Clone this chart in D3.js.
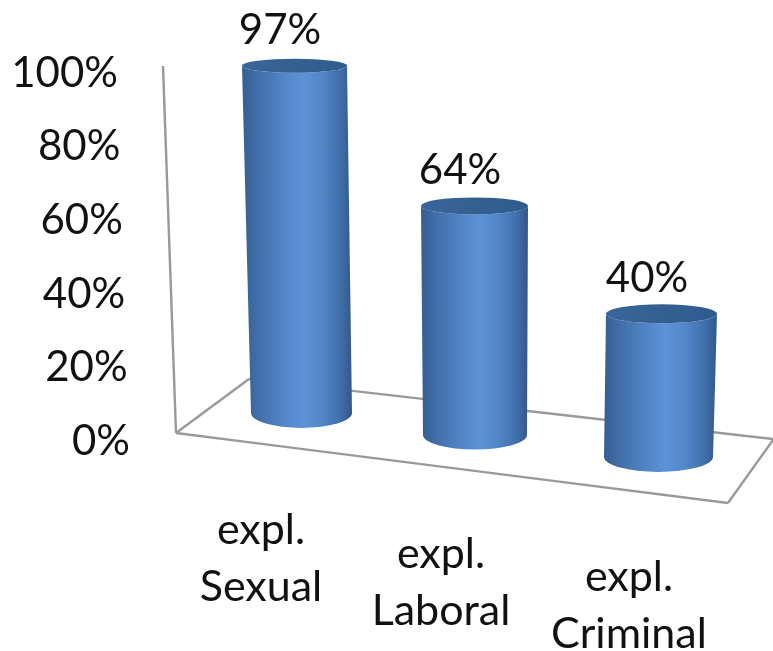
<!DOCTYPE html>
<html><head><meta charset="utf-8">
<script src="https://cdn.jsdelivr.net/npm/d3@7"></script>
<style>html,body{margin:0;background:#fff}svg{display:block;filter:blur(0.5px)}text{font-family:Lato,"Open Sans",sans-serif;fill:#111}</style>
</head><body><svg id="c" width="773" height="651"></svg>
<script>
const categories = [["expl.","Sexual"],["expl.","Laboral"],["expl.","Criminal"]];
const values = [97,64,40];
const valueLabels = ["97%","64%","40%"];
const ticks = [0,20,40,60,80,100];

const svg = d3.select("#c"), idx = [0,1,2];
const fs = 42;
// projected chart geometry
const yTick = d3.scaleLinear().domain([0,100]).range([440,72]);
const xTick = d3.scaleLinear().domain([0,100]).range([130,118]);
const baseX = d3.scaleOrdinal().domain(idx).range([301.5,475,658.5]);
const baseY = d3.scaleOrdinal().domain(idx).range([413,435,457]);
const baseRx = d3.scaleOrdinal().domain(idx).range([50.5,52,54.5]);
const baseRy = d3.scaleOrdinal().domain(idx).range([15,14.5,15]);
const topX = d3.scaleOrdinal().domain(idx).range([294.5,474.5,661.5]);
const topRx = d3.scaleOrdinal().domain(idx).range([52.5,53.5,55.5]);
const topRy = d3.scaleOrdinal().domain(idx).range([7,8.5,9.5]);
const h = d3.scaleLinear().domain([0,100]).range([0,358]);
const labX = d3.scaleOrdinal().domain(idx).range([261,441,629]);
const labY = d3.scaleOrdinal().domain(idx).range([544,568,591]);
const valX = d3.scaleOrdinal().domain(idx).range([280,460,647]);

const defs = svg.append("defs");
const body = defs.append("linearGradient").attr("id","body");
[[0,"#355f93"],[.12,"#3f6ca5"],[.35,"#4f83c4"],[.55,"#5c92d8"],[.72,"#5287c8"],[.9,"#406ea8"],[1,"#30588b"]]
  .forEach(([o,c])=>body.append("stop").attr("offset",o).attr("stop-color",c));
const cap = defs.append("linearGradient").attr("id","cap");
[[0,"#3a659c"],[.5,"#33608f"],[1,"#2f5c91"]]
  .forEach(([o,c])=>cap.append("stop").attr("offset",o).attr("stop-color",c));

// frame
const frame = [
  [[163,66],[176,433]],
  [[176,433],[249,379]],
  [[176,433],[728,503]],
  [[728,503],[773,440]],
  [[249,379],[773,439]]
];
svg.append("g").selectAll("line").data(frame).join("line")
  .attr("x1",d=>d[0][0]).attr("y1",d=>d[0][1]).attr("x2",d=>d[1][0]).attr("y2",d=>d[1][1])
  .attr("stroke","#999").attr("stroke-width",2.4);

// tick labels
svg.append("g").selectAll("text").data(ticks).join("text")
  .attr("x",d=>xTick(d)).attr("y",d=>yTick(d)).attr("dy","0.35em")
  .attr("text-anchor","end").attr("font-size",fs).text(d=>d+"%");

// cylinders
const bars = svg.append("g").selectAll("g").data(idx).join("g");
bars.append("path").attr("fill","url(#body)").attr("d",i=>{
  const ty = baseY(i)-h(values[i]);
  return `M${topX(i)-topRx(i)},${ty}L${baseX(i)-baseRx(i)},${baseY(i)}`+
    `A${baseRx(i)},${baseRy(i)} 0 0 0 ${baseX(i)+baseRx(i)},${baseY(i)}`+
    `L${topX(i)+topRx(i)},${ty}A${topRx(i)},${topRy(i)} 0 0 1 ${topX(i)-topRx(i)},${ty}Z`;
});
bars.append("ellipse").attr("fill","url(#cap)")
  .attr("cx",topX).attr("cy",i=>baseY(i)-h(values[i]))
  .attr("rx",topRx).attr("ry",topRy);

// value labels
svg.append("g").selectAll("text").data(idx).join("text")
  .attr("x",valX).attr("y",i=>baseY(i)-h(values[i])-22)
  .attr("text-anchor","middle").attr("font-size",fs).text(i=>valueLabels[i]);

// category labels
const cat = svg.append("g").selectAll("text").data(idx).join("text")
  .attr("text-anchor","middle").attr("font-size",43);
cat.selectAll("tspan").data(i=>categories[i].map((t,k)=>({t,k,i}))).join("tspan")
  .attr("x",d=>labX(d.i)).attr("y",d=>labY(d.i)+d.k*57).text(d=>d.t);
</script></body></html>
